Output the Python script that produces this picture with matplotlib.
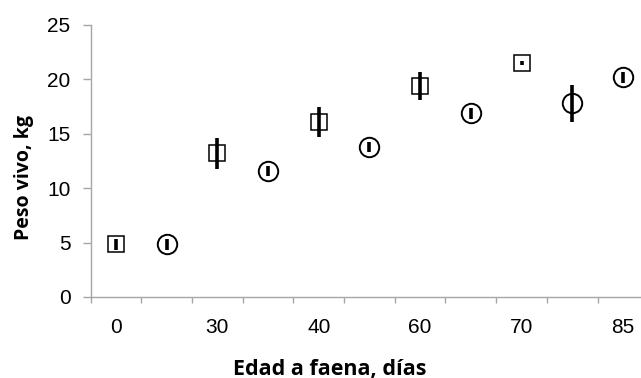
import matplotlib
matplotlib.use("Agg")
import matplotlib.pyplot as plt
from matplotlib.ticker import FixedLocator

categories = ["0", "", "30", "", "40", "", "60", "", "70", "", "85"]
square_pos = [0, 2, 4, 6, 8]
square_val = [4.85, 13.2, 16.1, 19.4, 21.5]
square_err = [0.5, 1.4, 1.4, 1.3, 0.15]
circle_pos = [1, 3, 5, 7, 9, 10]
circle_val = [4.85, 11.6, 13.8, 16.9, 17.8, 20.2]
circle_err = [0.5, 0.45, 0.45, 0.5, 1.7, 0.5]
y_ticks = [0, 5, 10, 15, 20, 25]

W, H = 641, 378
fig = plt.figure(figsize=(W / 100, H / 100), dpi=100)
ax = fig.add_axes([90.5 / W, (H - 297) / H, 1 - 90.5 / W, (297 - 25) / H])

ax.plot(square_pos, square_val, linestyle="none", marker="s", markersize=12,
        markerfacecolor="white", markeredgecolor="black", markeredgewidth=1.1, zorder=3)
ax.plot(circle_pos, circle_val, linestyle="none", marker="o", markersize=14,
        markerfacecolor="white", markeredgecolor="black", markeredgewidth=1.4, zorder=3)
ax.errorbar(square_pos, square_val, yerr=square_err, fmt="none", ecolor="black",
            elinewidth=2.6, capsize=0, zorder=4)
ax.errorbar(circle_pos, circle_val, yerr=circle_err, fmt="none", ecolor="black",
            elinewidth=2.6, capsize=0, zorder=4)

ax.set_xlim(-0.5, (W - 116) / 50.7)
ax.set_ylim(0, 25)
ax.set_yticks(y_ticks)
ax.set_xticks(range(len(categories)))
ax.set_xticklabels(categories)
ax.xaxis.set_minor_locator(FixedLocator([i - 0.5 for i in range(len(categories) + 1)]))

for s in ["top", "right"]:
    ax.spines[s].set_visible(False)
for s in ["left", "bottom"]:
    ax.spines[s].set_color("#a6a6a6")
    ax.spines[s].set_linewidth(1.0)

ax.tick_params(axis="x", which="major", length=0, pad=15, labelsize=15)
ax.tick_params(axis="x", which="minor", length=4.5, color="#a6a6a6", width=1.0, direction="out")
ax.tick_params(axis="y", length=5.8, color="#a6a6a6", width=1.0, direction="out", pad=8.6, labelsize=15)
for lab in ax.get_xticklabels() + ax.get_yticklabels():
    lab.set_fontfamily("Liberation Sans")

fig.text(330 / W, 1 - 369 / H, "Edad a faena, días", ha="center", va="center",
         fontsize=15.5, fontweight="bold", family="Open Sans")
fig.text(24 / W, 1 - 178 / H, "Peso vivo, kg", ha="center", va="center", rotation=90,
         fontsize=14, fontweight="bold", family="Open Sans")

fig.savefig("out.png", dpi=100)
